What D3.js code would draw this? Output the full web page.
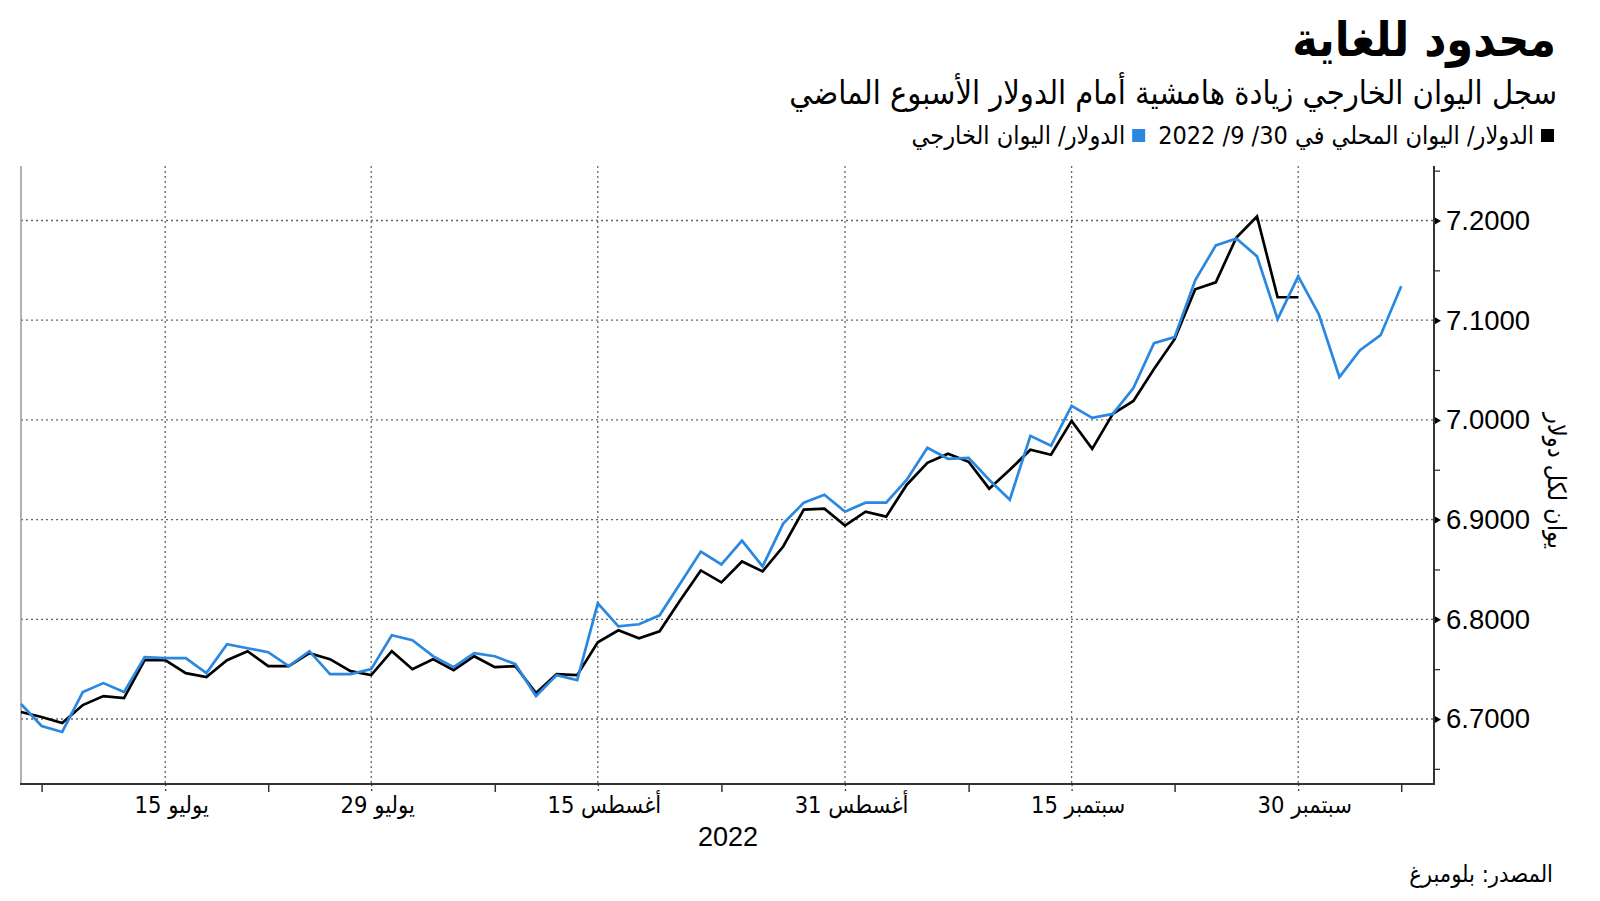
<!DOCTYPE html>
<html>
<head>
<meta charset="utf-8">
<script src="https://cdn.jsdelivr.net/npm/d3@7"></script>
<style>
  html, body { margin: 0; padding: 0; background: #fff; }
  svg { display: block; }
  .ar { font-family: "DejaVu Sans Condensed", "DejaVu Sans", sans-serif; }
  .num { font-family: "Liberation Sans", Arial, sans-serif; }
</style>
</head>
<body>
<svg id="chart" width="1600" height="901"></svg>
<script>
// ---------------- DATA ----------------
const dates = [
  "2022-07-06","2022-07-07","2022-07-08","2022-07-11","2022-07-12","2022-07-13","2022-07-14","2022-07-15",
  "2022-07-18","2022-07-19","2022-07-20","2022-07-21","2022-07-22","2022-07-25","2022-07-26","2022-07-27",
  "2022-07-28","2022-07-29","2022-08-01","2022-08-02","2022-08-03","2022-08-04","2022-08-05","2022-08-08",
  "2022-08-09","2022-08-10","2022-08-11","2022-08-12","2022-08-15","2022-08-16","2022-08-17","2022-08-18",
  "2022-08-19","2022-08-22","2022-08-23","2022-08-24","2022-08-25","2022-08-26","2022-08-29","2022-08-30",
  "2022-08-31","2022-09-01","2022-09-02","2022-09-05","2022-09-06","2022-09-07","2022-09-08","2022-09-09",
  "2022-09-12","2022-09-13","2022-09-14","2022-09-15","2022-09-16","2022-09-19","2022-09-20","2022-09-21",
  "2022-09-22","2022-09-23","2022-09-26","2022-09-27","2022-09-28","2022-09-29","2022-09-30","2022-10-03",
  "2022-10-04","2022-10-05","2022-10-06","2022-10-07"
];

// Offshore yuan (CNH) per dollar - blue
const cnhValues = [
  6.715, 6.693, 6.687, 6.727, 6.736, 6.727, 6.762, 6.761,
  6.761, 6.746, 6.775, 6.771, 6.767, 6.753, 6.768, 6.745,
  6.745, 6.750, 6.784, 6.779, 6.763, 6.752, 6.766, 6.763,
  6.755, 6.723, 6.744, 6.739, 6.816, 6.793, 6.795, 6.804,
  6.836, 6.868, 6.855, 6.879, 6.853, 6.896, 6.917, 6.925,
  6.908, 6.917, 6.917, 6.940, 6.972, 6.961, 6.962, 6.940,
  6.920, 6.984, 6.974, 7.014, 7.002, 7.006, 7.032, 7.077,
  7.083, 7.140, 7.175, 7.182, 7.164, 7.101, 7.144, 7.106,
  7.043, 7.070, 7.085, 7.134
];

// Onshore yuan (CNY) per dollar - black (ends 30 Sep 2022)
const cnyValues = [
  6.707, 6.702, 6.696, 6.714, 6.723, 6.721, 6.759, 6.759,
  6.746, 6.742, 6.759, 6.768, 6.753, 6.753, 6.766, 6.760,
  6.748, 6.744, 6.768, 6.750, 6.760, 6.749, 6.763, 6.752,
  6.753, 6.726, 6.745, 6.744, 6.777, 6.789, 6.781, 6.788,
  6.819, 6.849, 6.837, 6.858, 6.848, 6.873, 6.910, 6.911,
  6.894, 6.908, 6.903, 6.935, 6.957, 6.966, 6.958, 6.931,
  6.950, 6.970, 6.965, 6.999, 6.971, 7.006, 7.019, 7.051,
  7.081, 7.131, 7.138, 7.183, 7.204, 7.123, 7.123
];

const yTickValues = [6.7, 6.8, 6.9, 7.0, 7.1, 7.2];
const yMinorTickValues = [6.65, 6.75, 6.85, 6.95, 7.05, 7.15, 7.25];
const xTickDates = ["2022-07-15","2022-07-29","2022-08-15","2022-08-31","2022-09-15","2022-09-30"];
const xTickLabels = ["15 يوليو","29 يوليو","15 أغسطس","31 أغسطس","15 سبتمبر","30 سبتمبر"];
const xMinorTickDates = ["2022-07-07","2022-07-22","2022-08-08","2022-08-23","2022-09-08","2022-09-22","2022-10-07"];

const titleText = "محدود للغاية";
const subtitleText = "سجل اليوان الخارجي زيادة هامشية أمام الدولار الأسبوع الماضي";
const legendLabels = ["الدولار/ اليوان المحلي في 30/ 9/ 2022", "الدولار/ اليوان الخارجي"];
const yAxisTitle = "يوان لكل دولار";
const yearLabel = "2022";
const sourceText = "المصدر: بلومبرغ";

// ---------------- LAYOUT ----------------
const W = 1600, H = 901;
const plotLeft = 21, plotRight = 1434, plotTop = 166, plotBottom = 784;
const colorBlue = "#2a88e0", colorBlack = "#000000";

const svg = d3.select("#chart");
svg.append("rect").attr("width", W).attr("height", H).attr("fill", "#fff");

const idx = d => dates.indexOf(d);
const x = d3.scaleLinear().domain([0, dates.length - 1]).range([plotLeft, plotLeft + (dates.length - 1) * 20.6]);
const y = d3.scaleLinear().domain([6.7, 7.2]).range([719, 220.5]);

// gridlines
const grid = svg.append("g");
grid.selectAll("line.h").data(yTickValues).join("line")
  .attr("x1", plotLeft).attr("x2", plotRight)
  .attr("y1", d => y(d)).attr("y2", d => y(d))
  .attr("stroke", "#666").attr("stroke-width", 1.3).attr("stroke-dasharray", "2,3");
grid.selectAll("line.v").data(xTickDates).join("line")
  .attr("x1", d => x(idx(d))).attr("x2", d => x(idx(d)))
  .attr("y1", plotTop).attr("y2", plotBottom)
  .attr("stroke", "#666").attr("stroke-width", 1.3).attr("stroke-dasharray", "2,3");

// left frame line
svg.append("line").attr("x1", plotLeft).attr("x2", plotLeft).attr("y1", plotTop).attr("y2", plotBottom)
  .attr("stroke", "#999").attr("stroke-width", 1.5);

// lines
const line = d3.line().x((d, i) => x(i)).y(d => y(d));
svg.append("path").datum(cnyValues).attr("d", line)
  .attr("fill", "none").attr("stroke", colorBlack).attr("stroke-width", 2.7).attr("stroke-linejoin", "miter");
svg.append("path").datum(cnhValues).attr("d", line)
  .attr("fill", "none").attr("stroke", colorBlue).attr("stroke-width", 2.7).attr("stroke-linejoin", "miter");

// x axis
const xAxisG = svg.append("g").attr("transform", `translate(0,${plotBottom})`);
xAxisG.call(d3.axisBottom(x)
  .tickValues(xTickDates.map(idx))
  .tickSize(8)
  .tickFormat((d, i) => xTickLabels[i]));
xAxisG.select(".domain").remove();
xAxisG.selectAll(".tick line").attr("stroke", "#333").attr("stroke-width", 1.2).attr("stroke-dasharray", "2,3");
xAxisG.selectAll(".tick text").attr("class", "ar").attr("font-size", 23.5).attr("fill", "#000")
  .attr("dy", "0.71em").attr("y", 12).attr("x", 6);
const xMinorG = svg.append("g").attr("transform", `translate(0,${plotBottom})`);
xMinorG.call(d3.axisBottom(x).tickValues(xMinorTickDates.map(idx)).tickSize(8).tickFormat(""));
xMinorG.select(".domain").remove();
xMinorG.selectAll(".tick line").attr("stroke", "#333").attr("stroke-width", 1.5);
svg.append("line").attr("x1", plotLeft - 1).attr("x2", plotRight + 1).attr("y1", plotBottom).attr("y2", plotBottom)
  .attr("stroke", "#333").attr("stroke-width", 2);

// y axis (right)
const yAxisG = svg.append("g").attr("transform", `translate(${plotRight},0)`);
yAxisG.call(d3.axisRight(y).tickValues(yTickValues).tickSize(0).tickPadding(12).tickFormat(d3.format(".4f")));
yAxisG.select(".domain").remove();
yAxisG.selectAll(".tick text").attr("class", "num").attr("font-size", 27.5).attr("fill", "#000");
yAxisG.selectAll(".tick").append("path").attr("d", "M0,-4L7,0L0,4Z").attr("fill", "#000");
const yMinorG = svg.append("g").attr("transform", `translate(${plotRight},0)`);
yMinorG.call(d3.axisRight(y).tickValues(yMinorTickValues).tickSize(6).tickFormat(""));
yMinorG.select(".domain").remove();
yMinorG.selectAll(".tick line").attr("stroke", "#333").attr("stroke-width", 1.3);
svg.append("line").attr("x1", plotRight).attr("x2", plotRight).attr("y1", plotTop).attr("y2", plotBottom + 1)
  .attr("stroke", "#333").attr("stroke-width", 2);

// y axis title (rotated)
svg.append("text").attr("class", "ar")
  .attr("transform", `translate(1548,481) rotate(90)`)
  .attr("text-anchor", "middle").attr("font-size", 25).attr("fill", "#000")
  .text(yAxisTitle);

// year label
svg.append("text").attr("class", "num").attr("x", 728).attr("y", 846)
  .attr("text-anchor", "middle").attr("font-size", 27).attr("fill", "#000").text(yearLabel);

// title, subtitle
svg.append("text").attr("class", "ar").attr("x", 1556).attr("y", 56)
  .attr("text-anchor", "end").attr("font-size", 48).attr("font-weight", "bold").attr("fill", "#000").text(titleText);
svg.append("text").attr("class", "ar").attr("x", 1557).attr("y", 104)
  .attr("text-anchor", "end").attr("font-size", 32.3).attr("fill", "#000").text(subtitleText);

// legend
const legG = svg.append("g");
const legColors = [colorBlack, colorBlue];
let cursor = 1554;
legendLabels.forEach((lab, i) => {
  legG.append("rect").attr("x", cursor - 13).attr("y", 129).attr("width", 13).attr("height", 13).attr("fill", legColors[i]);
  const t = legG.append("text").attr("class", "ar").attr("x", cursor - 20).attr("y", 144)
    .attr("text-anchor", "end").attr("font-size", 25).attr("fill", "#000").text(lab);
  const w = t.node().getComputedTextLength();
  cursor = cursor - 20 - w - 13;
});

// source
svg.append("text").attr("class", "ar").attr("x", 1553).attr("y", 882)
  .attr("text-anchor", "end").attr("font-size", 23.5).attr("fill", "#000").text(sourceText);
</script>
</body>
</html>
